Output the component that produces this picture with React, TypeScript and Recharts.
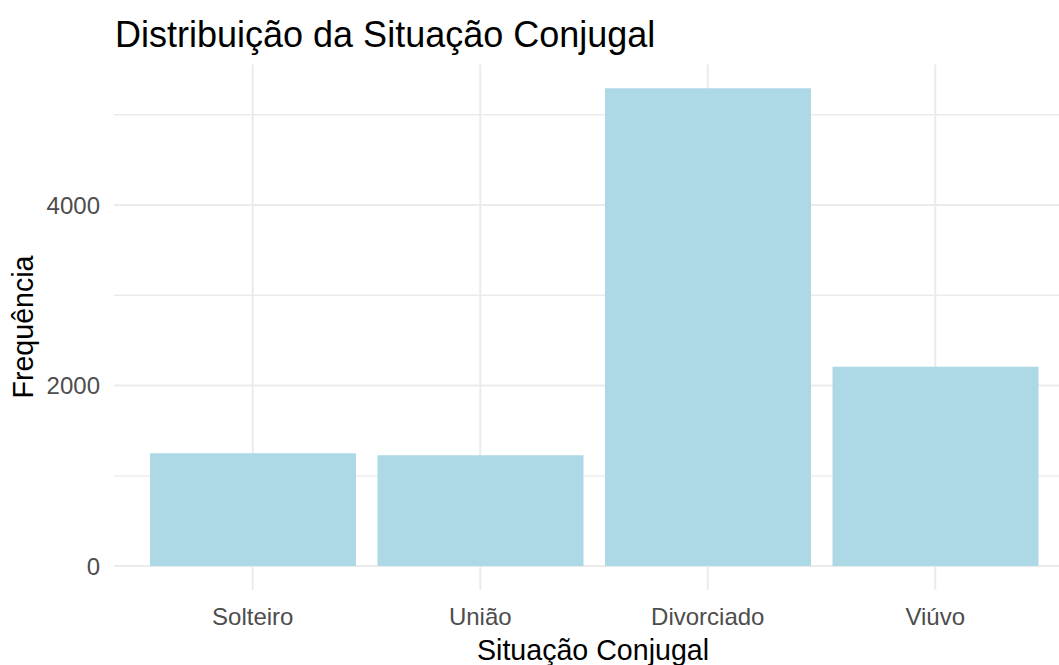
import React from 'react';
import { BarChart, Bar, XAxis, YAxis, CartesianGrid } from 'recharts';

// categories and counts
const categories = ['Solteiro', 'União', 'Divorciado', 'Viúvo'];
const counts = [1250, 1228, 5293, 2208];

const majorTicks = [0, 2000, 4000];
const minorTicks = [1000, 3000, 5000];

const data = categories.map((name, i) => ({ name, freq: counts[i] }));

// ggplot-style 5% expansion of the y range
const maxCount = Math.max(...counts);
const yDomain = [-0.05 * maxCount, maxCount * 1.05];

const FONT = "'Liberation Sans', Arial, sans-serif";

export default function App() {
  return (
    <div
      style={{
        position: 'absolute',
        left: 0,
        top: 0,
        width: 1059,
        height: 665,
        overflow: 'hidden',
        background: '#fff',
        fontFamily: FONT,
      }}
    >
      <BarChart
        width={1080}
        height={665}
        data={data}
        margin={{ top: 64.4, right: 8, bottom: 35, left: 0 }}
      >
        <CartesianGrid
          stroke="#ebebeb"
          strokeWidth={1.4}
          vertical={false}
          syncWithTicks
          horizontalValues={minorTicks}
        />
        <CartesianGrid
          stroke="#ebebeb"
          strokeWidth={2}
          syncWithTicks
          horizontalValues={majorTicks}
        />
        <XAxis
          dataKey="name"
          height={40}
          axisLine={false}
          tickLine={false}
          tickMargin={12}
          padding={{ left: 25, right: 23 }}
          tick={{ fill: '#4d4d4d', fontSize: 24, fontFamily: FONT }}
        />
        <YAxis
          width={114}
          type="number"
          domain={yDomain}
          ticks={majorTicks}
          allowDataOverflow
          axisLine={false}
          tickLine={false}
          tickMargin={8}
          tick={{ fill: '#4d4d4d', fontSize: 24, fontFamily: FONT }}
        />
        <Bar dataKey="freq" fill="#add8e6" barSize={206} isAnimationActive={false} />
        <text x={115} y={46.7} fontSize={36} fontFamily={FONT} fill="#000">
          Distribuição da Situação Conjugal
        </text>
        <text x={593} y={659.5} fontSize={28.6} fontFamily={FONT} fill="#000" textAnchor="middle">
          Situação Conjugal
        </text>
        <text
          x={32.5}
          y={327}
          fontSize={28.6}
          fontFamily={FONT}
          fill="#000"
          textAnchor="middle"
          transform="rotate(-90 32.5 327)"
        >
          Frequência
        </text>
      </BarChart>
    </div>
  );
}
